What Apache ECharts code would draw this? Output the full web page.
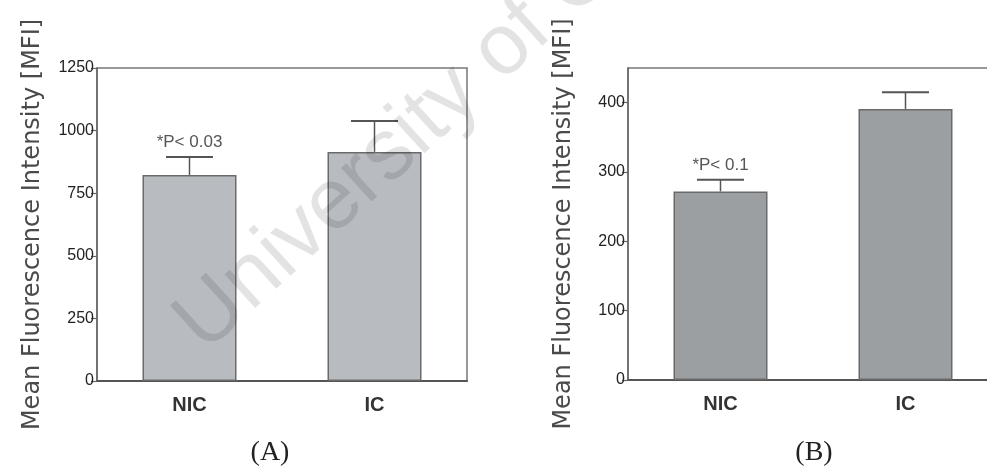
<!DOCTYPE html>
<html><head><meta charset="utf-8">
<script src="https://cdn.jsdelivr.net/npm/echarts@6/dist/echarts.min.js"></script>
<style>html,body{margin:0;padding:0;background:#fff}#c{width:987px;height:468px}</style>
</head><body><div id="c"></div>
<script>
const categories = ['NIC', 'IC'];
const meanA = [823, 915];
const upperA = [895, 1038];
const meanB = [272, 391];
const upperB = [289, 415];
const noteA = ['*P< 0.03', ''];
const noteB = ['*P< 0.1', ''];
const ticksA = [0, 250, 500, 750, 1000, 1250];
const ticksB = [0, 100, 200, 300, 400];
const yTitle = 'Mean Fluorescence Intensity [MFI]';
const panelLabels = ['(A)', '(B)'];
const watermark = 'University of Cape Town';

const chart = echarts.init(document.getElementById('c'), null, {renderer: 'canvas'});

function errSeries(idx, mean, upper, notes) {
  return {
    type: 'custom', xAxisIndex: idx, yAxisIndex: idx, z: 5,
    data: categories.map((c, i) => [i, mean[i], upper[i]]),
    renderItem: function (params, api) {
      const base = api.coord([api.value(0), api.value(1)]);
      const top = api.coord([api.value(0), api.value(2)]);
      const hw = 23.5;
      const children = [
        {type: 'line', shape: {x1: base[0], y1: base[1], x2: top[0], y2: top[1]}, style: {stroke: '#555', lineWidth: 1.5}},
        {type: 'line', shape: {x1: top[0] - hw, y1: top[1], x2: top[0] + hw, y2: top[1]}, style: {stroke: '#555', lineWidth: 2}}
      ];
      const note = notes[params.dataIndex];
      if (note) {
        children.push({type: 'text', style: {text: note, x: top[0], y: top[1] - 14.5, align: 'center', verticalAlign: 'middle', fontSize: 17, fontFamily: 'Liberation Sans', fill: '#555'}});
      }
      return {type: 'group', children: children};
    }
  };
}

function xAx(idx) {
  return {
    gridIndex: idx, type: 'category', data: categories,
    axisLine: {lineStyle: {color: '#555', width: 2}},
    axisTick: {show: false},
    axisLabel: {fontSize: 20, fontWeight: 'bold', color: '#333', margin: 14, fontFamily: 'Liberation Sans'}
  };
}
function yAx(idx, max, interval, ticks) {
  return {
    gridIndex: idx, type: 'value', min: 0, max: max, interval: interval,
    splitLine: {show: false},
    axisLine: {show: true, lineStyle: {color: '#666', width: 1.5}},
    axisTick: {show: true, length: 6, lineStyle: {color: '#666', width: 1.2}, customValues: ticks},
    axisLabel: {fontSize: 16, color: '#222', margin: 3, fontFamily: 'Liberation Sans', customValues: ticks,
      formatter: v => (ticks.indexOf(v) >= 0 ? String(v) : '')},
    name: yTitle, nameLocation: 'middle', nameGap: 52,
    nameTextStyle: {fontFamily: 'DejaVu Sans', fontSize: 24, color: '#4a4a4a'}
  };
}

const option = {
  backgroundColor: '#fff',
  animation: false,
  grid: [
    {left: 97, top: 68, width: 370, height: 313, show: true, borderColor: '#777', borderWidth: 1.5, backgroundColor: 'transparent', outerBoundsMode: 'none', containLabel: false},
    {left: 628, top: 68, width: 370, height: 312, show: true, borderColor: '#777', borderWidth: 1.5, backgroundColor: 'transparent', outerBoundsMode: 'none', containLabel: false}
  ],
  xAxis: [xAx(0), xAx(1)],
  yAxis: [yAx(0, 1250, 250, ticksA), yAx(1, 450, 100, ticksB)],
  series: [
    {type: 'bar', xAxisIndex: 0, yAxisIndex: 0, data: meanA, barWidth: 94,
      itemStyle: {color: '#b8bcc0', borderColor: '#6a6a6a', borderWidth: 1.5}},
    errSeries(0, meanA, upperA, noteA),
    {type: 'bar', xAxisIndex: 1, yAxisIndex: 1, data: meanB, barWidth: 94,
      itemStyle: {color: '#9c9fa1', borderColor: '#6a6a6a', borderWidth: 1.5}},
    errSeries(1, meanB, upperB, noteB)
  ],
  graphic: [
    {type: 'text', x: 270, y: 453, style: {text: panelLabels[0], align: 'center', verticalAlign: 'middle', fontSize: 28, fontFamily: 'Liberation Serif', fill: '#222'}},
    {type: 'text', x: 814, y: 453, style: {text: panelLabels[1], align: 'center', verticalAlign: 'middle', fontSize: 28, fontFamily: 'Liberation Serif', fill: '#222'}},
    {type: 'text', x: 218, y: 368, rotation: 0.74, z: 100, silent: true,
      style: {text: watermark, align: 'left', verticalAlign: 'bottom', fontSize: 86, fontFamily: 'Liberation Sans', fill: 'rgba(0,0,0,0.11)'}}
  ]
};
chart.setOption(option);
</script>
</body></html>
